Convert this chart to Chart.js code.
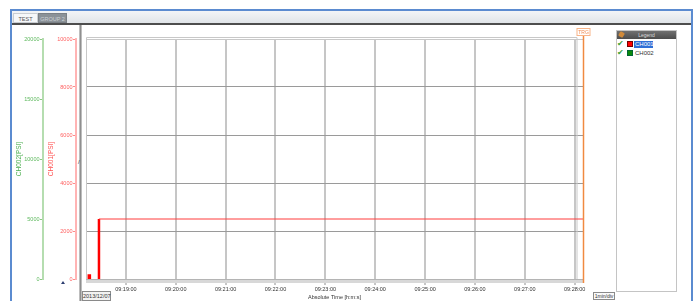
<!DOCTYPE html>
<html><head><meta charset="utf-8">
<script src="https://cdn.jsdelivr.net/npm/chart.js@4/dist/chart.umd.min.js"></script>
<style>
html,body{margin:0;padding:0;background:#fff;width:698px;height:301px;overflow:hidden;font-family:"Liberation Sans",Arial,sans-serif;}
.abs{position:absolute;box-sizing:border-box;}
#chart{position:absolute;left:0;top:0;z-index:5;pointer-events:none;}
.tab{position:absolute;top:13px;height:10px;font-size:5.5px;line-height:10px;text-align:center;box-sizing:border-box;}
.row{position:absolute;left:617px;height:8px;font-size:8px;line-height:8px;color:#3aa23a;}
</style></head><body>
<div class="abs" style="left:10px;top:9px;width:683px;height:292px;border-left:2px solid #5b8bd0;border-right:2px solid #5b8bd0;border-top:2px solid #5b8bd0;"></div>
<div class="abs" style="left:12px;top:11px;width:679px;height:12px;background:linear-gradient(#f3f5f7,#e0e4e8);"></div>
<div class="abs" style="left:12px;top:23px;width:679px;height:2px;background:#4d4d4d;"></div>
<div class="tab" style="left:13px;width:25px;background:#f5f7f9;border:1px solid #c9cdd2;color:#555;">TEST</div>
<div class="tab" style="left:38px;width:29px;background:#8b9298;border:1px solid #7a8086;color:#ccd1d6;">GROUP 2</div>
<div class="abs" style="left:79px;top:25px;width:3px;height:276px;background:linear-gradient(to right,#d4d4d4,#8f8f8f,#d4d4d4);"></div>
<div class="abs" style="left:78px;top:159px;font-size:6px;color:#333;">/</div>
<div class="abs" style="left:61px;top:281px;width:0;height:0;border-left:2.5px solid transparent;border-right:2.5px solid transparent;border-bottom:3px solid #2c3e70;"></div>
<div class="abs" style="left:82px;top:291px;width:29px;height:10px;border:1px solid #8a8a8a;background:#f2f2f2;font-size:5.5px;line-height:8px;text-align:center;color:#333;">2013/12/07</div>
<div class="abs" style="left:593px;top:292px;width:22px;height:8px;border:1px solid #8a8a8a;background:#fafafa;font-size:5px;line-height:6px;text-align:center;color:#333;">1min/div</div>
<div class="abs" style="left:616px;top:30px;width:61px;height:262px;border:1px solid #c4c4c4;background:#fff;"></div>
<div class="abs" style="left:617px;top:31px;width:59px;height:8px;background:linear-gradient(#707070,#4c4c4c);font-size:5px;line-height:8px;text-align:center;color:#ddd;">Legend</div>
<div class="abs" style="left:619px;top:32px;width:5px;height:5px;background:#d08a3a;border-radius:1px;transform:rotate(30deg);"></div>
<div class="row" style="top:40px;">&#10004;</div>
<div class="abs" style="left:627px;top:41px;width:6px;height:6px;background:#f00;border:1px solid #700;"></div>
<div class="abs" style="left:634px;top:41px;width:19px;height:7px;background:#2f6fd6;color:#fff;font-size:6px;line-height:7px;padding-left:1px;">CH001</div>
<div class="row" style="top:49px;">&#10004;</div>
<div class="abs" style="left:627px;top:50px;width:6px;height:6px;background:#0a8a0a;border:1px solid #063;"></div>
<div class="abs" style="left:634px;top:50px;width:19px;height:7px;color:#333;font-size:6px;line-height:7px;padding-left:1px;">CH002</div>
<canvas id="chart" width="698" height="301"></canvas>
<script>
const xMin = 33492, xMax = 34090;
const timeTicks = [33540, 33600, 33660, 33720, 33780, 33840, 33900, 33960, 34020, 34080];
const timeTickLabels = ['09:19:00','09:20:00','09:21:00','09:22:00','09:23:00','09:24:00','09:25:00','09:26:00','09:27:00','09:28:00'];
const ch001Ticks = [0, 2000, 4000, 6000, 8000, 10000];
const ch002Ticks = [0, 5000, 10000, 15000, 20000];
const ch001Times = [33506.8, 33507.6, 34090];
const ch001Values = [0, 2500, 2500];
const ch001BurstTimes = [33493.6, 33498.4];
const ch001BurstValues = [200, 200];
const ch002Times = [];
const ch002Values = [];
const trgTime = 34089.5;

const pts = (ts, vs) => ts.map((t, i) => ({x: t, y: vs[i]}));
const small = {family: '"Liberation Sans", Arial, sans-serif', size: 5.5};

const framePlugin = {
  id: 'frame',
  beforeDatasetsDraw(chart) {
    const {ctx, chartArea: a} = chart;
    ctx.save();
    ctx.strokeStyle = '#c8c8c8';
    ctx.lineWidth = 1;
    ctx.beginPath();
    ctx.moveTo(a.left + 0.5, a.bottom);
    ctx.lineTo(a.left + 0.5, a.top - 1.5);
    ctx.lineTo(a.right - 6, a.top - 1.5);
    ctx.lineTo(a.right - 6, a.bottom);
    ctx.stroke();
    ctx.fillStyle = '#d8d8d8';
    ctx.fillRect(a.left, a.bottom, a.right - a.left, 4);
    ctx.fillStyle = '#b4b4b4';
    ctx.fillRect(a.left, a.bottom, a.right - a.left, 1);
    ctx.restore();
  },
  afterDraw(chart) {
    const {ctx, chartArea: a} = chart;
    const x = Math.round(chart.scales.x.getPixelForValue(trgTime)) + 0.5;
    ctx.save();
    ctx.strokeStyle = '#f08a40';
    ctx.lineWidth = 1.5;
    ctx.beginPath();
    ctx.moveTo(x, a.top - 4);
    ctx.lineTo(x, a.bottom + 4);
    ctx.stroke();
    ctx.strokeStyle = '#f8b488';
    ctx.lineWidth = 1;
    ctx.fillStyle = '#fff';
    ctx.fillRect(x - 6.5, 28, 13, 7);
    ctx.strokeRect(x - 6.5, 28.5, 13, 7);
    ctx.fillStyle = '#f08a50';
    ctx.font = '5px "Liberation Sans", Arial, sans-serif';
    ctx.textAlign = 'center';
    ctx.textBaseline = 'middle';
    ctx.fillText('TRG', x, 32.2);
    ctx.restore();
  }
};

new Chart(document.getElementById('chart'), {
  type: 'line',
  data: {
    datasets: [
      {label: 'CH001', data: pts(ch001Times, ch001Values), yAxisID: 'yR', borderColor: '#ff0000',
       pointRadius: 0, fill: false, tension: 0,
       segment: {
         borderWidth: c => (c.p0.parsed.y !== c.p1.parsed.y ? 2.5 : 1),
         borderColor: c => (c.p0.parsed.y !== c.p1.parsed.y ? '#ff0000' : '#ff3c3c')
       }},
      {label: 'CH001', data: pts(ch001BurstTimes, ch001BurstValues), yAxisID: 'yR', borderColor: '#ff0000',
       backgroundColor: '#ff0000', borderWidth: 0, pointRadius: 0, fill: 'origin'},
      {label: 'CH002', data: pts(ch002Times, ch002Values), yAxisID: 'yG', borderColor: '#0a8a0a',
       pointRadius: 0, borderWidth: 1, fill: false}
    ]
  },
  options: {
    responsive: false, animation: false, devicePixelRatio: 1,
    layout: {padding: {left: 12, right: 115, top: 39, bottom: 0}},
    plugins: {legend: {display: false}, tooltip: {enabled: false}},
    scales: {
      x: {
        type: 'linear', min: xMin, max: xMax,
        afterBuildTicks: s => { s.ticks = timeTicks.map(v => ({value: v})); },
        ticks: {callback: (v, i) => timeTickLabels[i], font: small, color: '#333', padding: 1, maxRotation: 0, autoSkip: false},
        grid: {color: '#c6c6c6', lineWidth: 2, tickLength: 6, drawTicks: true},
        border: {display: false},
        title: {display: true, text: 'Absolute Time [h:m:s]', font: small, color: '#333', padding: {top: 0, bottom: 0.5}},
        afterFit: s => { s.height = 22; }
      },
      yG: {
        position: 'left', weight: 3, min: 0, max: 20000,
        afterBuildTicks: s => { s.ticks = ch002Ticks.map(v => ({value: v})); },
        ticks: {callback: v => String(v), font: small, color: '#5cb85c', padding: 0.5},
        grid: {drawOnChartArea: false, drawTicks: true, tickLength: 3, color: '#8cc884', lineWidth: 1},
        border: {display: true, color: '#b5ddb0', width: 2},
        title: {display: true, text: 'CH002[PSI]', font: {family: small.family, size: 6.5}, color: '#4caf50', padding: {top: 3, bottom: 0}},
        afterFit: s => { s.width = 31; }
      },
      yR: {
        position: 'left', weight: 2, min: 0, max: 10000,
        afterBuildTicks: s => { s.ticks = ch001Ticks.map(v => ({value: v})); },
        ticks: {callback: v => String(v), font: small, color: '#ff6060', padding: 0.5},
        grid: {drawOnChartArea: false, drawTicks: true, tickLength: 3, color: '#ff8a8a', lineWidth: 1},
        border: {display: true, color: '#ffb4b4', width: 2},
        title: {display: true, text: 'CH001[PSI]', font: {family: small.family, size: 6.5}, color: '#ff5050', padding: {top: 4, bottom: 0}},
        afterFit: s => { s.width = 33; }
      },
      yGrid: {
        position: 'left', weight: 1, min: 0, max: 10000,
        afterBuildTicks: s => { s.ticks = ch001Ticks.map(v => ({value: v})); },
        ticks: {display: false},
        grid: {drawTicks: false, lineWidth: 1, color: c => (c.tick && c.tick.value === 10000 ? '#c8c8c8' : '#9a9a9a')},
        border: {display: false},
        afterFit: s => { s.width = 10; }
      }
    }
  },
  plugins: [framePlugin]
});
</script>
</body></html>
